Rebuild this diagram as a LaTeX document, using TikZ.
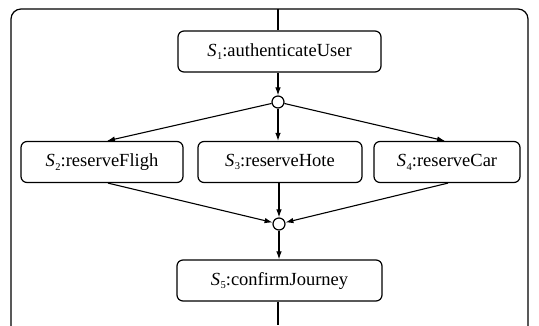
\documentclass[tikz,border=0pt]{standalone}
\usepackage{fontspec}
\setmainfont{Liberation Serif}
\usetikzlibrary{arrows.meta, positioning, calc}
\newcommand{\svc}[2]{\textit{S}\kern0.5pt\raisebox{-0.45ex}{\fontsize{10.5}{11}\selectfont #1}:#2}
\tikzstyle{taskbox} = [
    rectangle,
    rounded corners=6pt,
    minimum height=41pt,
    text centered,
    draw=black,
    line width=1.2pt,
    fill=white,
    font=\fontsize{18.5}{22}\selectfont
]
\tikzstyle{gate} = [
    circle,
    minimum size=12pt,
    inner sep=0pt,
    draw=black,
    line width=1.2pt,
    fill=white
]
\tikzstyle{arrow} = [
    -{Latex[length=8pt,width=5.5pt]},
    line width=1.1pt,
    color=black
]
\begin{document}
\begin{tikzpicture}[x=1pt, y=1pt]
\useasboundingbox (0,0) rectangle (539,325);

% Outer frame (open at the bottom)
\draw[line width=1.2pt, rounded corners=10pt] (11,-12) rectangle (528,316);

% Sequence start
\node[taskbox, minimum width=203pt] (s1) at (279.5,273.5) {\svc{1}{authenticateUser}};
\coordinate (entry) at (278,316);
\draw[line width=1.1pt] (entry) -- (entry |- s1.north);

% Fork
\node[gate] (fork) at (278,223) {};
\draw[arrow] (s1.south -| fork) -- (fork);

% Parallel branch
\node[taskbox, minimum width=164pt] (s3) at (280,163) {\svc{3}{reserveHote}};
\node[taskbox, minimum width=162pt] (s2) at (102,163) {\svc{2}{reserveFligh}};
\node[taskbox, minimum width=146pt] (s4) at (447,163) {\svc{4}{reserveCar}};
\draw[arrow] (fork) -- ($(s2.north)+(5,0)$);
\draw[arrow] (fork) -- (s3.north -| fork);
\draw[arrow] (fork) -- ($(s4.north)+(-2,0)$);

% Join
\node[gate] (join) at (279,101) {};
\draw[arrow] ($(s2.south)+(6,0)$) -- (join);
\draw[arrow] (s3.south -| join) -- (join);
\draw[arrow] ($(s4.south)+(1,0)$) -- (join);

% Sequence end
\node[taskbox, minimum width=205pt] (s5) at (279.5,44.5) {\svc{5}{confirmJourney}};
\draw[arrow] (join) -- (join |- s5.north);
\coordinate (exit) at (278,0);
\draw[line width=1.1pt] (s5.south -| exit) -- (exit);

\end{tikzpicture}
\end{document}
